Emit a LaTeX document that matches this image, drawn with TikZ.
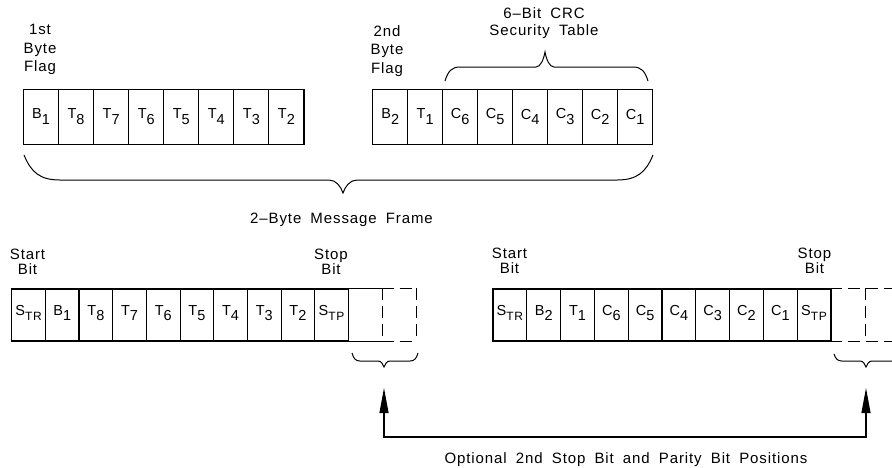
\documentclass[tikz,border=0pt]{standalone}
\usepackage{fontspec}
\newfontfamily\cad[LetterSpace=6,WordSpace=1.8]{Liberation Sans}
\usetikzlibrary{arrows.meta}
\newcommand\lo[1]{\raisebox{-5.5pt}{#1}}
\newcommand\subsz{\fontsize{12}{12}\selectfont}
\newcommand\Str{S\lo{\subsz TR}}
\newcommand\Stp{S\lo{\subsz TP}}
% x1 x2 yend yflat ytip r t xm
\newcommand\mybrace[8]{%
  \draw[bracestyle] (#1,#3)
    .. controls ({#1+0.2*#6},{#3+0.7*(#4-#3)}) and ({#1+0.45*#6},#4) .. ({#1+#6},#4)
    -- ({#8-#7},#4)
    .. controls ({#8-0.5*#7},#4) and ({#8-0.15*#7},{#4+0.5*(#5-#4)}) .. (#8,#5)
    .. controls ({#8+0.15*#7},{#4+0.5*(#5-#4)}) and ({#8+0.5*#7},#4) .. ({#8+#7},#4)
    -- ({#2-#6},#4)
    .. controls ({#2-0.45*#6},#4) and ({#2-0.2*#6},{#3+0.7*(#4-#3)}) .. (#2,#3);}
\begin{document}
\begin{tikzpicture}[x=1pt,y=-1pt,line width=1.1pt,
  tcell/.style={draw, inner sep=0pt, minimum width=35.06pt, minimum height=55pt},
  bcell/.style={inner sep=0pt, minimum width=#1, minimum height=52pt},
  ctext/.style={inner sep=0pt, font=\cad\fontsize{14.5}{14.5}\selectfont},
  lbl/.style={inner sep=0pt, align=center, font=\cad\fontsize{15}{18.5}\selectfont},
  dashpat/.style={dash pattern=on 12pt off 6pt},
  bracestyle/.style={line width=1pt},
  arr/.style={{Triangle[length=25pt,width=9pt]}-{Triangle[length=25pt,width=9pt]}}]
\clip (0,0) rectangle (892,467);
\fill[white] (0,0) rectangle (892,467);

% top left byte
\foreach \t [count=\i] in {B\lo{1},T\lo{8},T\lo{7},T\lo{6},T\lo{5},T\lo{4},T\lo{3},T\lo{2}} {
  \node[tcell] (tl\i) at ({23.5+35.06*(\i-0.5)},116.75) {};
  \node[ctext] (tlt\i) at (tl\i.center) {\t};
}
% top right byte
\foreach \t [count=\i] in {B\lo{2},T\lo{1},C\lo{6},C\lo{5},C\lo{4},C\lo{3},C\lo{2},C\lo{1}} {
  \node[tcell] (tr\i) at ({372.7+35*(\i-0.5)},116.75) {};
  \node[ctext] (trt\i) at (tr\i.center) {\t};
}
% labels top
\node[lbl, anchor=north] (flag1) at (40,24) {1st\\Byte\\Flag};
\node[lbl, anchor=north] (flag2) at (387,25) {2nd\\Byte\\Flag};
\node[lbl, anchor=north, font=\cad\fontsize{15}{17.5}\selectfont] (crc) at (544,7) {6–Bit CRC\\Security Table};
\mybrace{445}{648}{81}{67}{52}{15}{9}{545}
\mybrace{24}{653}{155}{180}{193}{36}{14}{343}
\node[lbl, anchor=base] (frame) at (341.5,223) {2–Byte Message Frame};

% bottom left frame
\foreach \t [count=\i] in {\Str,B\lo{1},T\lo{8},T\lo{7},T\lo{6},T\lo{5},T\lo{4},T\lo{3},T\lo{2},\Stp} {
  \node[bcell=33.67pt, draw] (bl\i) at ({11.7+33.67*(\i-0.5)},315) {};
  \node[ctext] (blt\i) at ([yshift=2pt]bl\i.center) {\t};
}
\node[bcell=33.67pt] (bl11) at ({11.7+33.67*10.5},315) {};
\node[bcell=33.67pt] (bl12) at ({11.7+33.67*11.5},315) {};
\draw (bl11.north west) -- (bl11.north east);
\draw (bl11.south west) -- (bl11.south east);
\draw[dashpat] (bl11.north east) -- (bl11.south east);
\draw[dashpat] (bl12.north west) -- (bl12.north east);
\draw[dashpat] (bl12.south west) -- (bl12.south east);
\draw[dashpat] (bl12.north east) -- (bl12.south east);

% bottom right frame
\foreach \t [count=\i] in {\Str,B\lo{2},T\lo{1},C\lo{6},C\lo{5},C\lo{4},C\lo{3},C\lo{2},C\lo{1},\Stp} {
  \node[bcell=33.8pt, draw] (br\i) at ({493+33.8*(\i-0.5)},315) {};
  \node[ctext] (brt\i) at ([yshift=2pt]br\i.center) {\t};
}
\node[bcell=33.8pt] (br11) at ({493+33.8*10.5},315) {};
\node[bcell=33.8pt] (br12) at ({493+33.8*11.5},315) {};
\draw[dashpat] (br11.north west) -- (br12.north east);
\draw[dashpat] (br11.south west) -- (br12.south east);
\draw[dashpat] (br11.north east) -- (br11.south east);
\draw[dashpat] (br12.north east) -- (br12.south east);

% start/stop labels
\node[lbl, anchor=north, font=\cad\fontsize{15}{15.5}\selectfont] (startL) at (27.5,248) {Start\\Bit};
\node[lbl, anchor=north, font=\cad\fontsize{15}{15.5}\selectfont] (stopL) at (331,248) {Stop\\Bit};
\node[lbl, anchor=north, font=\cad\fontsize{15}{15.5}\selectfont] (startR) at (509.5,247) {Start\\Bit};
\node[lbl, anchor=north, font=\cad\fontsize{15}{15.5}\selectfont] (stopR) at (814.5,247) {Stop\\Bit};

% bottom braces
\mybrace{352}{418}{353}{361}{367}{8}{6}{384}
\mybrace{834}{900}{354}{361}{367}{8}{6}{866}

% optional arrows
\coordinate (tipL) at (384,388);
\coordinate (tipR) at (866,388);
\coordinate (cornL) at (384,437);
\coordinate (cornR) at (866,437);
\draw[arr] (tipL) -- (cornL) -- (cornR) -- (tipR);
\node[lbl, anchor=base] (opt) at (626,463) {Optional 2nd Stop Bit and Parity Bit Positions};
\end{tikzpicture}
\end{document}
